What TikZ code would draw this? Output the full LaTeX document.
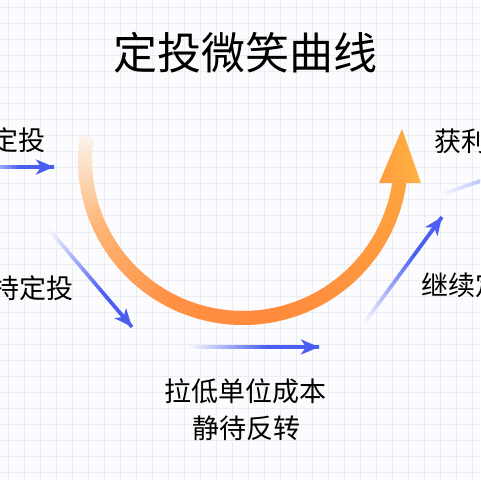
\documentclass[tikz,border=0pt]{standalone}
\usepackage{fontspec}
\setmainfont{Noto Sans CJK SC}
\usetikzlibrary{calc,arrows.meta}
\definecolor{bgc}{HTML}{FCFCFE}
\definecolor{gridc}{HTML}{ECECF3}
\definecolor{arrowblue}{HTML}{4B5EF2}
\definecolor{oc0}{HTML}{FBF3EA}
\definecolor{oc1}{HTML}{FFB576}
\definecolor{oc2}{HTML}{FF9043}
\definecolor{oc3}{HTML}{FF8A3D}
\definecolor{oc4}{HTML}{FF983E}
\definecolor{oc5}{HTML}{FFA43E}
\definecolor{headA}{HTML}{FF9C3C}
\definecolor{headB}{HTML}{FFB345}
\newcommand\fadeline[5]{%
  \foreach \i in {0,...,39}{%
    \pgfmathsetmacro\ta{\i/40}%
    \pgfmathsetmacro\tb{min(1,(\i+1.4)/40)}%
    \pgfmathsetmacro\pc{min(100,#3+(#4-#3)*\ta/#5)}%
    \draw[line width=1.8pt, draw=arrowblue!\pc!bgc] ($(#1)!\ta!(#2)$) -- ($(#1)!\tb!(#2)$);
  }}
\tikzset{
  lbl/.style={inner sep=0pt, font=\fontsize{13.5pt}{16pt}\selectfont, text=black},
  ttl/.style={inner sep=0pt, font=\fontsize{22pt}{26pt}\selectfont, text=black},
  bluehead/.style={-{Stealth[length=9pt,width=7.5pt,inset=2.5pt]}, line width=1.8pt, draw=arrowblue}
}
\begin{document}
\begin{tikzpicture}[x=0.5pt,y=-0.5pt]
\useasboundingbox (0,0) rectangle (480,480);
\clip (0,0) rectangle (480,480);
\fill[bgc] (0,0) rectangle (480,480);
\foreach \g in {8,24,...,472}{
  \draw[gridc, line width=0.5pt] (\g,0) -- (\g,480);
  \draw[gridc, line width=0.5pt] (0,\g) -- (480,\g);
}
% title
\node[ttl] (title) at (245,53) {定投微笑曲线};
% smile curve
\foreach \i in {0,...,179}{%
  \pgfmathsetmacro\f{\i/179}%
  \pgfmathsetmacro\a{188.4-\i}%
  \pgfmathsetmacro\b{\a-1.4}%
  \ifdim\f pt<0.18pt
    \pgfmathsetmacro\p{100*\f/0.18}\colorlet{cc}{oc1!\p!oc0}%
  \else\ifdim\f pt<0.4pt
    \pgfmathsetmacro\p{100*(\f-0.18)/0.22}\colorlet{cc}{oc2!\p!oc1}%
  \else\ifdim\f pt<0.6pt
    \pgfmathsetmacro\p{100*(\f-0.4)/0.2}\colorlet{cc}{oc3!\p!oc2}%
  \else\ifdim\f pt<0.85pt
    \pgfmathsetmacro\p{100*(\f-0.6)/0.25}\colorlet{cc}{oc4!\p!oc3}%
  \else
    \pgfmathsetmacro\p{100*(\f-0.85)/0.15}\colorlet{cc}{oc5!\p!oc4}%
  \fi\fi\fi\fi
  \draw[line width=7pt, draw=cc] ({243+158*cos(\a)},{160+158*sin(\a)}) -- ({243+158*cos(\b)},{160+158*sin(\b)});
}
\coordinate (hl) at (379,183);
\coordinate (hr) at (421,183);
\coordinate (ht) at (402,129);
\shade[left color=headA, right color=headB] (hl) -- (hr) -- (ht) -- cycle;
% blue arrows
\coordinate (a1s) at (-10,167); \coordinate (a1e) at (54,167);
\coordinate (a2s) at (47,227);  \coordinate (a2e) at (132,327);
\coordinate (a3s) at (186,347); \coordinate (a3e) at (319,347);
\coordinate (a4s) at (362,326); \coordinate (a4e) at (442,217);
\coordinate (a5s) at (440,195); \coordinate (a5e) at (492,177);
\fadeline{a1s}{a1e}{30}{100}{0.45}
\draw[bluehead] ($(a1s)!0.85!(a1e)$) -- (a1e);
\fadeline{a2s}{a2e}{0}{100}{0.65}
\draw[bluehead] ($(a2s)!0.85!(a2e)$) -- (a2e);
\fadeline{a3s}{a3e}{0}{100}{0.6}
\draw[bluehead] ($(a3s)!0.85!(a3e)$) -- (a3e);
\fadeline{a4s}{a4e}{0}{100}{0.65}
\draw[bluehead] ($(a4s)!0.85!(a4e)$) -- (a4e);
\fadeline{a5s}{a5e}{0}{45}{1}
% labels
\node[lbl, anchor=east] (l1) at (46,140) {定投};
\node[lbl, anchor=east] (l2) at (74,288) {持定投};
\node[lbl] (l3) at (245,391) {拉低单位成本};
\node[lbl] (l4) at (246,428) {静待反转};
\node[lbl, anchor=west] (l5) at (434,141) {获利};
\node[lbl, anchor=west] (l6) at (421,285) {继续定};
\end{tikzpicture}
\end{document}
